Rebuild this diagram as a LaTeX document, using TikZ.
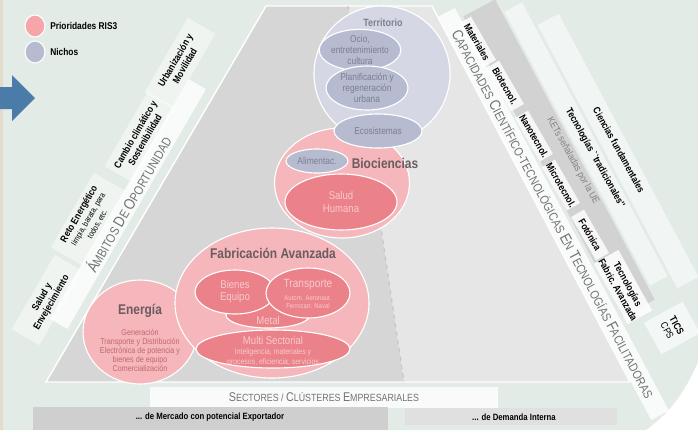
\documentclass[tikz,border=0pt]{standalone}
\usepackage{fontspec}
\setmainfont{Liberation Sans}
\newfontfamily\narrowsf[FakeStretch=0.85]{Liberation Sans}
\usetikzlibrary{shapes.geometric}

\definecolor{bgmint}{HTML}{E2EBE6}
\definecolor{sandstrip}{HTML}{E4DCCB}
\definecolor{trapdark}{HTML}{D6D6D6}
\definecolor{traplight}{HTML}{E6E6E6}
\definecolor{ketgray}{HTML}{D2D2D2}
\definecolor{rispink}{HTML}{F5B7BB}
\definecolor{rissalmon}{HTML}{EB8189}
\definecolor{pinklight}{HTML}{F9CACD}
\definecolor{nicholav}{HTML}{D5D8E4}
\definecolor{nichodeep}{HTML}{B7BBD0}
\definecolor{lavtext}{HTML}{7C7F91}
\definecolor{titlegray}{HTML}{6A5C5F}
\definecolor{energytext}{HTML}{C0676E}
\definecolor{arrowblue}{HTML}{4B7BA8}
\definecolor{capsgray}{HTML}{727272}

% big first letter, small caps for the rest
\newcommand{\capbig}{10}
\newcommand{\capsmall}{8.2}
\newcommand{\capw}[2]{{\fontsize{\capbig}{\capbig}\selectfont #1}{\fontsize{\capsmall}{\capsmall}\selectfont #2}}

\begin{document}
\begin{tikzpicture}[x=0.025cm, y=-0.025cm,
	dims/.style 2 args={minimum width=#1*0.025cm, minimum height=#2*0.025cm},
	bubble/.style={ellipse, draw=white, line width=0.8pt, inner sep=0pt, align=center},
	prio/.style={bubble, fill=rispink},
	prioin/.style={bubble, fill=rissalmon, text=pinklight, font=\narrowsf\fontsize{8}{8.6}\selectfont},
	nicho/.style={bubble, fill=nicholav},
	nichoin/.style={bubble, fill=nichodeep, text=lavtext, font=\narrowsf\fontsize{7}{7.8}\selectfont},
	bigname/.style={text=titlegray, inner sep=0pt, font=\narrowsf\bfseries\fontsize{10}{10}\selectfont},
	smalltxt/.style={inner sep=0pt, align=center, font=\narrowsf\fontsize{5}{5.8}\selectfont},
	sideband/.style={fill=white, fill opacity=.55, text opacity=1, inner sep=0pt},
	capsband/.style={sideband, fill opacity=.8, text=capsgray, font=\narrowsf\fontsize{8.2}{8.2}\selectfont},
	lbox/.style={sideband, fill opacity=.45, align=center, font=\narrowsf\bfseries\fontsize{7}{7.8}\selectfont},
	wbox/.style={lbox, fill opacity=.8, rotate=-60, dims={50}{15}},
	sidelbl/.style={inner sep=0pt, align=center, font=\narrowsf\bfseries\fontsize{7}{7.6}\selectfont},
	legtext/.style={inner sep=0pt, anchor=west, font=\narrowsf\bfseries\fontsize{7}{7}\selectfont}
	]
	\useasboundingbox (0,0) rectangle (698,430);
	% background
	\fill[white] (0,0) rectangle (698,430);
	\fill[bgmint] (0,0) -- (698,0) -- (698,362) .. controls (683,396) and (668,414) .. (646,430) -- (0,430) -- cycle;
	\fill[sandstrip] (0,0) rectangle (3,430);

	% Ambitos de oportunidad
	\node[lbox, rotate=60, dims={86}{32}] (lsalud) at (47,300) {Salud y\\Envejecimiento};
	\node[lbox, rotate=60, dims={86}{36}, font=\narrowsf\bfseries\fontsize{7}{7.4}\selectfont] (lreto) at (88,219) {Reto Energético\\{\mdseries\fontsize{5.8}{5.8}\selectfont limpia, barata, para}\\{\mdseries\fontsize{5.8}{5.8}\selectfont todos, etc.}};
	\node[lbox, rotate=60, dims={86}{32}] (lcambio) at (140,137) {Cambio climático y\\Sostenibilidad};
	\node[lbox, rotate=60, dims={86}{32}] (lurban) at (180,63) {Urbanización y\\Movilidad};
	\node[capsband, rotate=60, dims={277}{20}, font=\narrowsf\renewcommand{\capbig}{11}\renewcommand{\capsmall}{9}\fontsize{9}{9}\selectfont] (ambitos) at (128,204) {\capw{Á}{MBITOS} \capw{D}{E} \capw{O}{PORTUNIDAD}};

	% Capacidades cientifico-tecnologicas
	\node[sideband, fill=ketgray, fill opacity=1, rotate=-62, dims={340}{36}] (ketband) at (559,158) {};
	\node[sideband, rotate=-62, dims={310}{20}] (tradband) at (586,144) {};
	\node[sideband, rotate=-62, dims={298}{24}] (ciencband) at (618,151) {};
	\node[capsband, rotate=-62, dims={456}{20}, font=\narrowsf\renewcommand{\capbig}{10.8}\renewcommand{\capsmall}{8.8}\fontsize{8.8}{8.8}\selectfont] (capband) at (553,214) {\capw{C}{APACIDADES} \capw{C}{IENTÍFICO}-{\fontsize{8.8}{8.8}\selectfont TECNOLÓGICAS} \capw{E}{N} \capw{T}{ECNOLOGÍAS} \capw{F}{ACILITADORAS}};
	\node[wbox] (mat) at (477,42) {Materiales};
	\node[wbox] (biot) at (505,86) {Biotecnol.};
	\node[wbox] (nano) at (534,136) {Nanotecnol.};
	\node[wbox] (micro) at (561,185) {Microtecnol.};
	\node[wbox] (foto) at (590,235) {Fotónica};
	\node[sidelbl, rotate=-61, text=gray, font=\narrowsf\fontsize{7}{7}\selectfont] (kets) at (573,161) {KETs señaladas por la UE};
	\node[sidelbl, rotate=-61] (trad) at (595,158) {Tecnologías ``tradicionales''};
	\node[sidelbl, rotate=-61] (cienc) at (619,150) {Ciencias fundamentales};
	\node[lbox, fill opacity=.85, rotate=-61, dims={64}{28}, font=\narrowsf\bfseries\fontsize{7}{8}\selectfont] (fabav) at (623,287) {Tecnologías\\Fabric. Avanzada};
	\node[lbox, fill opacity=.6, rotate=-61, dims={36}{44}] (tics) at (672,328) {TICS\\{\mdseries CPS}};

	% Sectores / clusteres
	\fill[trapdark] (266,6) -- (348,6) -- (404,382) -- (46,382) -- cycle;
	\fill[traplight] (348,6) -- (432,6) -- (630,382) -- (404,382) -- cycle;
	\draw[white, line width=1pt] (266,6) -- (432,6) -- (630,382) -- (46,382) -- cycle;
	\draw[dashed, white!55!gray, line width=0.8pt] (348,6) -- (404,382);
	\node[capsband, dims={348}{21}, font=\narrowsf\renewcommand{\capbig}{9}\renewcommand{\capsmall}{7.4}\fontsize{7.4}{7.4}\selectfont] (sectores) at (324,397) {\capw{S}{ECTORES} / \capw{C}{LÚSTERES} \capw{E}{MPRESARIALES}};
	\fill[black!19] (33,407) rectangle (388,430);
	\fill[black!12] (405,408) rectangle (617,425);
	\node[sidelbl, font=\narrowsf\bfseries\fontsize{6.5}{6.5}\selectfont] (export) at (210,417) {... de Mercado con potencial Exportador};
	\node[sidelbl, font=\narrowsf\bfseries\fontsize{6.5}{6.5}\selectfont] (interna) at (514,417) {... de Demanda Interna};

	% Energia
	\node[prio, dims={114}{104}] (energia) at (140,332) {};
	\node[bigname] (energiat) at (140,311) {Energía};
	\node[smalltxt, text=energytext, font=\narrowsf\fontsize{6}{6.4}\selectfont] (energial) at (140,350) {Generación\\Transporte y Distribución\\Electrónica de potencia y\\bienes de equipo\\Comercialización};

	% Biociencias
	\node[prio, dims={135}{110}] (bioc) at (342,183) {};
	\node[prioin, dims={112}{56}] (salud) at (341,202) {Salud\\Humana};
	\node[nichoin, dims={62}{24}] (alim) at (317,161) {Alimentac.};
	\node[bigname] (bioct) at (385,163) {Biociencias};

	% Fabricacion avanzada
	\node[prio, dims={194}{150}] (fabric) at (272,303) {};
	\node[bigname] (fabrict) at (273,253) {Fabricación Avanzada};
	\node[prioin, dims={84}{26}] (metal) at (268,315) {};
	\node[text=pinklight, inner sep=0pt, font=\narrowsf\fontsize{8}{8}\selectfont] (metalt) at (268,320) {Metal};
	\node[prioin, dims={80}{44}] (bienes) at (235,292) {Bienes\\Equipo};
	\node[prioin, dims={84}{50}] (transp) at (308,293) {};
	\node[text=pinklight, inner sep=0pt, font=\narrowsf\fontsize{8.5}{8.5}\selectfont] (transpt) at (308,285) {Transporte};
	\node[smalltxt, text=pinklight] (transpl) at (308,302) {Autom. Aeronaut.\\Ferrocarr. Naval};
	\node[prioin, dims={154}{38}] (multi) at (273,349) {};
	\node[text=pinklight, inner sep=0pt, font=\narrowsf\fontsize{8}{8}\selectfont] (multit) at (273,340) {Multi Sectorial};
	\node[smalltxt, text=pinklight, font=\narrowsf\fontsize{5.8}{7}\selectfont] (multil) at (273,357) {Inteligencia, materiales y\\procesos, eficiencia, servicios};

	% Territorio
	\node[nicho, dims={136}{136}] (terr) at (382,74) {};
	\node[bigname, text=lavtext, font=\narrowsf\bfseries\fontsize{7.5}{7.5}\selectfont] (terrt) at (383,23) {Territorio};
	\node[nichoin, dims={78}{36}] (ocio) at (360,50) {Ocio,\\entretenimiento\\cultura};
	\node[nichoin, dims={82}{44}] (planif) at (367,88) {Planificación y\\regeneración\\urbana};
	\node[nichoin, dims={88}{34}] (ecos) at (378,131) {Ecosistemas};

	% legend and arrow
	\node[bubble, fill=rispink!90!red, dims={20}{22}] (legprio) at (35,26) {};
	\node[bubble, fill=nichodeep, dims={20}{22}] (legnicho) at (35,52) {};
	\node[legtext] (legpriot) at (50,26) {Prioridades RIS3};
	\node[legtext] (legnichot) at (50,52) {Nichos};
	\fill[arrowblue] (0,87) -- (12,87) -- (12,75) -- (35,98) -- (12,121) -- (12,109) -- (0,109) -- cycle;
\end{tikzpicture}
\end{document}
